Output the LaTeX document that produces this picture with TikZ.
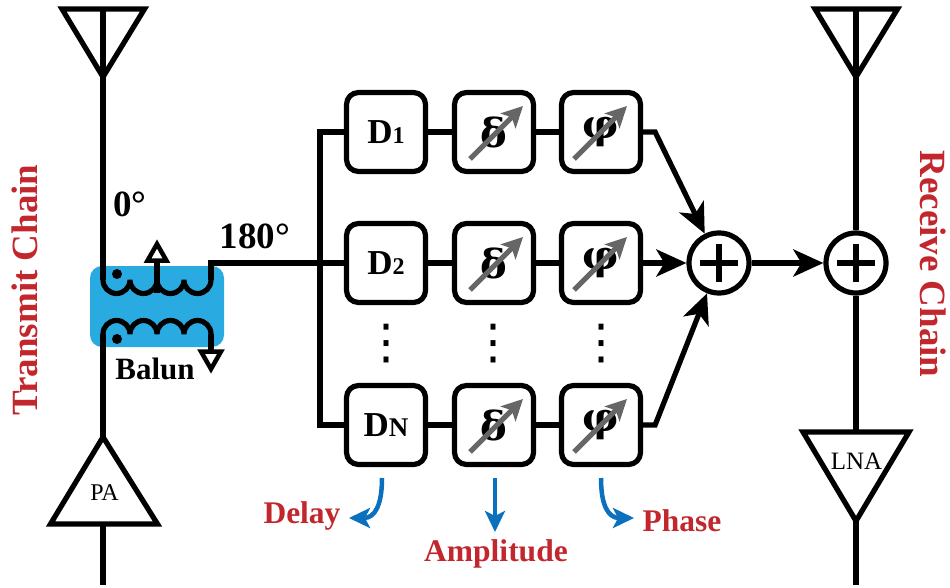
\documentclass[tikz,border=0pt]{standalone}
\usepackage{fontspec}
\setmainfont{Liberation Serif}
\newfontfamily\symfont{DejaVu Sans}
\newfontfamily\greekfont{DejaVu Serif}
\usetikzlibrary{arrows.meta,calc}
\definecolor{lblred}{HTML}{C1272D}
\definecolor{ablue}{HTML}{0B70BE}
\definecolor{balunblue}{HTML}{29ABE2}
\definecolor{tune}{HTML}{666666}
\tikzset{
  wire/.style={line width=5.2pt,line join=miter},
  coil/.style={line width=5.2pt,line join=bevel},
  tri/.style={line width=5.2pt,line join=miter},
  hollow/.style={line width=4.5pt,fill=white,line join=miter},
  block/.style={draw,line width=5.2pt,rounded corners=12pt,minimum width=79pt,minimum height=79pt,inner sep=0pt,fill=white},
  sumnode/.style={draw,circle,line width=5.2pt,minimum size=60pt,inner sep=0pt,fill=white},
  bigarrow/.style={wire,-{Stealth[length=30pt,width=27pt,inset=8pt]}},
  tunearrow/.style={draw=tune,line width=5pt,-{Stealth[length=21pt,width=21pt,inset=5pt]}},
  bluearrow/.style={draw=ablue,line width=4.5pt,-{Stealth[length=21pt,width=20pt,inset=5pt]}},
  dlabel/.style={font=\fontsize{35}{35}\selectfont\bfseries,inner sep=0pt},
  lbl/.style={font=\fontsize{37}{37}\selectfont\bfseries,inner sep=0pt},
  redlbl/.style={font=\fontsize{31.5}{31.5}\selectfont\bfseries,text=lblred,inner sep=0pt},
  chainlbl/.style={font=\fontsize{37}{37}\selectfont\bfseries,text=lblred,inner sep=0pt},
  dotsnode/.style={font=\fontsize{48}{48}\selectfont\symfont,inner sep=0pt},
  ampsym/.style={font=\fontsize{40}{40}\selectfont\greekfont\bfseries,inner sep=0pt},
  small/.style={font=\fontsize{24}{24}\selectfont,inner sep=0pt}
}
\begin{document}
\begin{tikzpicture}[x=1pt,y=1pt]
\useasboundingbox (0,0) rectangle (950,-588);
% balun background
\fill[balunblue,rounded corners=12pt] (90,-266) rectangle (224,-347);
% antennas
\coordinate (antLtop) at (103,-9);
\coordinate (antRtop) at (856,-9);
\coordinate (antLtip) at (103,-77);
\coordinate (antRtip) at (856,-77);
\coordinate (coilTL) at (103,-280);
\coordinate (coilTR) at (211,-280);
\coordinate (coilBL) at (103,-334);
\coordinate (coilBR) at (211,-334);
\coordinate (tapT) at (157,-261);
\coordinate (tapB) at (211,-351);
\coordinate (paTip) at (103,-437);
\coordinate (paEnd) at (103,-585);
\coordinate (lnaEnd) at (856,-585);
\coordinate (bus) at (320,-263);
\draw[wire] (antLtop) -- (coilTL);
\draw[tri] (62,-9) -- (144.5,-9) -- (antLtip) -- cycle;
\draw[tri] (815,-9) -- (897.5,-9) -- (antRtip) -- cycle;
% coils
\draw[coil] (coilTL) arc[start angle=180,end angle=360,radius=13.5]
  arc[start angle=180,end angle=360,radius=13.5]
  arc[start angle=180,end angle=360,radius=13.5]
  arc[start angle=180,end angle=360,radius=13.5];
\draw[wire] (coilTR) -- (211,-263) -- (bus);
\draw[coil] (coilBL) arc[start angle=180,end angle=0,radius=13.5]
  arc[start angle=180,end angle=0,radius=13.5]
  arc[start angle=180,end angle=0,radius=13.5]
  arc[start angle=180,end angle=0,radius=13.5];
\draw[wire] (coilBR) -- (tapB);
\draw[wire] (157,-293) -- (tapT);
\draw[hollow] (147.5,-260.7) -- (166.5,-260.7) -- (157,-244) -- cycle;
\draw[hollow] (201,-351.5) -- (221,-351.5) -- (211,-369) -- cycle;
\fill (117,-274) circle (5pt);
\fill (117,-339) circle (5pt);
% PA
\draw[wire] (coilBL) -- (paTip);
\draw[wire] (103,-524) -- (paEnd);
\draw[tri] (paTip) -- (157.5,-524) -- (50.5,-524) -- cycle;
\node[small] (pa) at (104.5,-493) {PA};
% blocks
\foreach \n/\y in {1/-132,2/-263,3/-425}{
  \node[block] (del\n) at (386,\y) {};
  \node[block] (amp\n) at (494,\y) {};
  \node[block] (pha\n) at (601,\y) {};
}
\node[dlabel] (d1) at (386,-132) {D{\fontsize{24}{24}\selectfont 1}};
\node[dlabel] (d2) at (386,-263) {D{\fontsize{24}{24}\selectfont 2}};
\node[dlabel] (dn) at (386,-425) {D{\fontsize{27}{27}\selectfont N}};
\foreach \n in {1,2,3}{
  \draw[wire] (del\n) -- (amp\n);
  \draw[wire] (amp\n) -- (pha\n);
  \node[ampsym] (ds\n) at (amp\n) {δ};
  \node[ampsym] (ph\n) at (pha\n) {φ};
  \draw[tunearrow] ($(amp\n)+(-24,-27)$) -- ($(amp\n)+(29,26)$);
  \draw[tunearrow] ($(pha\n)+(-27,-27)$) -- ($(pha\n)+(26,26)$);
}
% bus
\draw[wire] (del1.west) -- (del1.west -| bus) -- (del3.west -| bus) -- (del3.west);
\draw[wire] (bus) -- (del2.west);
% dots
\node[dotsnode] (v1) at (386,-344) {⋮};
\node[dotsnode] (v2) at (493,-344) {⋮};
\node[dotsnode] (v3) at (601,-344) {⋮};
% summers
\node[sumnode] (s1) at (719,-263) {};
\node[sumnode] (s2) at (856,-263) {};
\foreach \s in {s1,s2}{
  \draw[line width=5.2pt] ($(\s)+(-19,0)$) -- ($(\s)+(19,0)$);
  \draw[line width=5.2pt] ($(\s)+(0,-19)$) -- ($(\s)+(0,19)$);
}
\draw[bigarrow] (pha1.east) -- ++(12,0) -- (s1);
\draw[bigarrow] (pha2.east) -- (s1);
\draw[bigarrow] (pha3.east) -- ++(12,0) -- (s1);
\draw[bigarrow] (s1) -- (s2);
% receive chain
\coordinate (lnaTop) at (856,-432);
\coordinate (lnaTip) at (856,-521);
\draw[wire] (antRtop) -- (s2);
\draw[wire] (s2) -- (lnaTop);
\draw[wire] (lnaTip) -- (lnaEnd);
\draw[tri] (803,-432) -- (909,-432) -- (lnaTip) -- cycle;
\node[small,font=\fontsize{25}{25}\selectfont] (lna) at (856.5,-461) {LNA};
% labels
\node[lbl] (l0) at (130,-204) {0°};
\node[lbl] (l180) at (255,-236) {180°};
\node[lbl,font=\fontsize{31}{31}\selectfont\bfseries] (lb) at (155,-369) {Balun};
\node[chainlbl,rotate=90] (tx) at (25,-290) {Transmit Chain};
\node[chainlbl,rotate=-90] (rx) at (933,-264) {Receive Chain};
\node[redlbl] (delay) at (302,-516) {Delay};
\node[redlbl] (ampl) at (496,-554) {Amplitude};
\node[redlbl] (phase) at (682,-521) {Phase};
% blue arrows
\coordinate (bd) at (382,-478);
\coordinate (ba) at (495,-478);
\coordinate (bp) at (601,-478);
\draw[bluearrow] (bd) .. controls (382,-505) and (375,-518) .. (349,-518);
\draw[bluearrow] (ba) -- (495,-532);
\draw[bluearrow] (bp) .. controls (601,-505) and (608,-518) .. (634,-518);
\end{tikzpicture}
\end{document}
